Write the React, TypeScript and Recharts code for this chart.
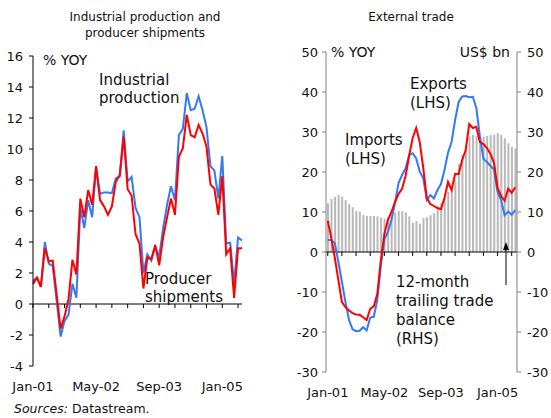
import React from 'react';
import {
  Bar,
  ComposedChart,
  Line,
  LineChart,
  ReferenceLine,
  XAxis,
  YAxis,
} from 'recharts';

const MONTHS = [
  'Jan-01', 'Feb-01', 'Mar-01', 'Apr-01', 'May-01', 'Jun-01', 'Jul-01', 'Aug-01', 'Sep-01', 'Oct-01', 'Nov-01', 'Dec-01',
  'Jan-02', 'Feb-02', 'Mar-02', 'Apr-02', 'May-02', 'Jun-02', 'Jul-02', 'Aug-02', 'Sep-02', 'Oct-02', 'Nov-02', 'Dec-02',
  'Jan-03', 'Feb-03', 'Mar-03', 'Apr-03', 'May-03', 'Jun-03', 'Jul-03', 'Aug-03', 'Sep-03', 'Oct-03', 'Nov-03', 'Dec-03',
  'Jan-04', 'Feb-04', 'Mar-04', 'Apr-04', 'May-04', 'Jun-04', 'Jul-04', 'Aug-04', 'Sep-04', 'Oct-04', 'Nov-04', 'Dec-04',
  'Jan-05', 'Feb-05', 'Mar-05', 'Apr-05', 'May-05', 'Jun-05',
];

// tick marks every 4 months, labels every 16
const TICK_MONTHS = [
  'Jan-01', 'May-01', 'Sep-01', 'Jan-02', 'May-02', 'Sep-02', 'Jan-03',
  'May-03', 'Sep-03', 'Jan-04', 'May-04', 'Sep-04', 'Jan-05', 'May-05',
];
const LABEL_MONTHS = ['Jan-01', 'May-02', 'Sep-03', 'Jan-05'];

// left panel, % YOY
const industrialProduction = [
  1.5, 1.7, 1.1, 4.0, 2.6, 2.45, 0.2, -2.1, -1.1, -0.7, 1.3, 0.4,
  6.2, 4.9, 6.7, 5.6, 8.8, 7.1, 7.2, 7.2, 7.15, 8.1, 8.25, 11.2,
  7.9, 8.2, 6.2, 5.6, 2.0, 3.2, 2.8, 3.7, 3.05, 4.9, 6.4, 7.6,
  6.7, 10.9, 11.3, 13.6, 12.5, 12.6, 13.4, 12.5, 11.4, 8.9, 8.6, 6.8,
  9.55, 3.9, 3.95, 1.3, 4.3, 4.1,
];
const producerShipments = [
  1.3, 1.7, 1.1, 3.6, 2.75, 2.8, 0.6, -1.6, -0.8, 0.3, 2.85, 1.9,
  6.8, 5.6, 7.35, 6.4, 8.9, 6.7, 6.3, 5.75, 6.3, 7.9, 8.3, 10.8,
  7.4, 7.0, 4.5, 3.9, 1.0, 3.0, 2.9, 3.8, 2.5, 4.3, 5.6, 6.8,
  5.75, 9.5, 10.05, 12.2, 10.9, 10.75, 11.55, 11.0, 10.15, 7.7, 7.45, 5.75,
  8.25, 3.2, 3.6, 0.4, 3.6, 3.6,
];

// right panel: exports / imports % YOY (LHS), trade balance US$ bn (RHS)
const exportsYoy = [
  3.0, 3.0, 2.2, -2.5, -7.5, -12.5, -17, -19.3, -19.8, -19.7, -18.8, -19.6,
  -16.4, -16.2, -12, -3.5, 3.2, 5.0, 8, 12.2, 17.2, 19.25, 20.9, 24.25,
  24.7, 23.4, 20.1, 18.4, 13, 14.25, 13.4, 15.5, 17, 20.5, 24.8, 27.5,
  33, 37.5, 38.9, 39, 38.7, 38.8, 36, 29, 23.3, 22.5, 21.5, 20.7,
  15, 13, 9.2, 10.1, 9.3, 10.5,
];
const importsYoy = [
  7.8, 3.5, -1.5, -7, -12.5, -13.8, -14.6, -15.3, -15.6, -15.7, -16.3, -17,
  -14.2, -13.6, -10.5, -2, 4.5, 8, 10, 12.5, 14.5, 15.8, 19, 24,
  28.5, 31, 27.5, 21, 13.5, 12, 11.5, 11, 10.7, 13.5, 17.5, 15.5,
  19.5, 19.5, 23, 25.5, 32, 31, 31.3, 27.5, 27, 26, 24.5, 22.3,
  16, 14, 12.8, 15.8, 14.8, 16.2,
];
const tradeBalance = [
  12.2, 13.25, 13.8, 14.25, 13.8, 13.0, 12.0, 11.2, 10.3, 10.1, 9.25, 9.0,
  9.0, 9.0, 8.9, 8.6, 8.3, 8.75, 9.3, 9.9, 10.25, 10.25, 9.9, 8.9,
  7.25, 7.7, 7.1, 8.5, 8.7, 9.2, 9.7, 10.9, 12.2, 13.5, 15, 16.5,
  18, 22, 24.25, 26.75, 28.8, 29.25, 29, 28.8, 28.8, 29, 29.25, 29.4,
  29.7, 29.25, 28.4, 27.2, 26.3, 25.9,
];

const leftTicks = [-4, -2, 0, 2, 4, 6, 8, 10, 12, 14, 16];
const rightTicks = [-30, -20, -10, 0, 10, 20, 30, 40, 50];

const leftData = MONTHS.map((m, i) => ({
  month: m,
  ip: industrialProduction[i],
  ps: producerShipments[i],
}));
const rightData = MONTHS.map((m, i) => ({
  month: m,
  exp: exportsYoy[i],
  imp: importsYoy[i],
  bal: tradeBalance[i],
}));

const FONT = '"DejaVu Sans", Verdana, sans-serif';
const BLUE = '#3478f6';
const RED = '#ff0000';

// plot box of each chart (chart-local px), used to put the x ticks on the zero line
const L = { top: 56, bottom: 366, min: -4, max: 16 };
const R = { top: 52, bottom: 372, min: -30, max: 50 };
const zeroOf = (p: typeof L) =>
  p.top + (p.max / (p.max - p.min)) * (p.bottom - p.top);

function MonthTick(props: any) {
  const { x, payload, zeroY, labelY } = props;
  return (
    <g>
      <line x1={x} x2={x} y1={zeroY} y2={zeroY + 4} stroke="#000" />
      {LABEL_MONTHS.includes(payload.value) && (
        <text x={x} y={labelY} textAnchor="middle" fontSize={13} fill="#111" fontFamily={FONT}>
          {payload.value}
        </text>
      )}
    </g>
  );
}

const abs = (s: React.CSSProperties): React.CSSProperties => ({ position: 'absolute', ...s });

export default function App() {
  return (
    <div
      style={{
        position: 'fixed',
        left: 0,
        top: 0,
        width: 551,
        height: 418,
        overflow: 'hidden',
        background: '#fff',
        fontFamily: FONT,
        color: '#111',
      }}
    >
      {/* titles */}
      <div style={abs({ left: 45, top: 9, width: 200, textAlign: 'center', fontSize: 12, lineHeight: '16px' })}>
        Industrial production and
        <br />
        producer shipments
      </div>
      <div style={abs({ left: 331, top: 9, width: 160, textAlign: 'center', fontSize: 12, lineHeight: '16px' })}>
        External trade
      </div>

      {/* left panel */}
      <div style={abs({ left: 0, top: 0 })}>
        <LineChart width={250} height={400} data={leftData} margin={{ top: L.top, right: 8, left: 0, bottom: 0 }}>
          <XAxis
            dataKey="month"
            ticks={TICK_MONTHS}
            interval={0}
            height={400 - L.bottom}
            axisLine={false}
            tickLine={false}
            tick={(p: any) => <MonthTick {...p} zeroY={zeroOf(L)} labelY={L.bottom + 25} />}
          />
          <YAxis
            width={33}
            domain={[L.min, L.max]}
            ticks={leftTicks}
            interval={0}
            axisLine={{ stroke: '#000' }}
            tickLine={{ stroke: '#000' }}
            tickSize={4}
            tickMargin={6}
            tick={{ fill: '#111', fontSize: 13, fontFamily: FONT }}
          />
          <ReferenceLine y={0} stroke="#000" />
          <Line dataKey="ip" stroke={BLUE} strokeWidth={2} dot={false} isAnimationActive={false} />
          <Line dataKey="ps" stroke={RED} strokeWidth={2} dot={false} isAnimationActive={false} />
        </LineChart>
      </div>

      {/* right panel */}
      <div style={abs({ left: 270, top: 0 })}>
        <ComposedChart width={300} height={400} data={rightData} margin={{ top: R.top, right: 0, left: 0, bottom: 0 }}>
          <XAxis
            dataKey="month"
            ticks={TICK_MONTHS}
            interval={0}
            height={400 - R.bottom}
            axisLine={false}
            tickLine={false}
            tick={(p: any) => <MonthTick {...p} zeroY={zeroOf(R)} labelY={R.bottom + 25} />}
          />
          <YAxis
            yAxisId="left"
            width={56}
            domain={[R.min, R.max]}
            ticks={rightTicks}
            interval={0}
            axisLine={{ stroke: '#808080' }}
            tickLine={{ stroke: '#808080' }}
            tickSize={4}
            tickMargin={4}
            tick={{ fill: '#111', fontSize: 13, fontFamily: FONT }}
          />
          <YAxis
            yAxisId="right"
            orientation="right"
            width={53}
            domain={[R.min, R.max]}
            ticks={rightTicks}
            interval={0}
            axisLine={{ stroke: '#808080' }}
            tickLine={{ stroke: '#808080' }}
            tickSize={4}
            tickMargin={6}
            tick={{ fill: '#111', fontSize: 13, fontFamily: FONT }}
          />
          <Bar yAxisId="right" dataKey="bal" fill="#b8b8b8" barSize={2} isAnimationActive={false} />
          <ReferenceLine yAxisId="left" y={0} stroke="#000" />
          <Line yAxisId="left" dataKey="exp" stroke={BLUE} strokeWidth={2} dot={false} isAnimationActive={false} />
          <Line yAxisId="left" dataKey="imp" stroke={RED} strokeWidth={2} dot={false} isAnimationActive={false} />
        </ComposedChart>
      </div>

      {/* unit labels */}
      <div style={abs({ left: 43, top: 52, fontSize: 14, lineHeight: '16px' })}>% YOY</div>
      <div style={abs({ left: 331, top: 44, fontSize: 14, lineHeight: '16px' })}>% YOY</div>
      <div style={abs({ left: 440, top: 44, width: 70, textAlign: 'right', fontSize: 14, lineHeight: '16px' })}>US$ bn</div>

      {/* annotations */}
      <div style={abs({ left: 99, top: 71, fontSize: 15, lineHeight: '18px' })}>
        Industrial
        <br />
        production
      </div>
      <div style={abs({ left: 145, top: 270, fontSize: 15, lineHeight: '18px' })}>
        Producer
        <br />
        shipments
      </div>
      <div style={abs({ left: 410, top: 75, fontSize: 15, lineHeight: '18.5px' })}>
        Exports
        <br />
        (LHS)
      </div>
      <div style={abs({ left: 345, top: 131, fontSize: 15, lineHeight: '18.5px' })}>
        Imports
        <br />
        (LHS)
      </div>
      <div style={abs({ left: 396, top: 273, fontSize: 15, lineHeight: '19px' })}>
        12-month
        <br />
        trailing trade
        <br />
        balance
        <br />
        (RHS)
      </div>
      <svg style={abs({ left: 500, top: 238 })} width={12} height={50}>
        <line x1={6} x2={6} y1={10} y2={47} stroke="#000" strokeWidth={1} />
        <polygon points="6,4 3,12 9,12" fill="#000" />
      </svg>

      <div style={abs({ left: 14, top: 401, fontSize: 12.5, lineHeight: '16px' })}>
        <i>Sources:</i> Datastream.
      </div>
    </div>
  );
}
